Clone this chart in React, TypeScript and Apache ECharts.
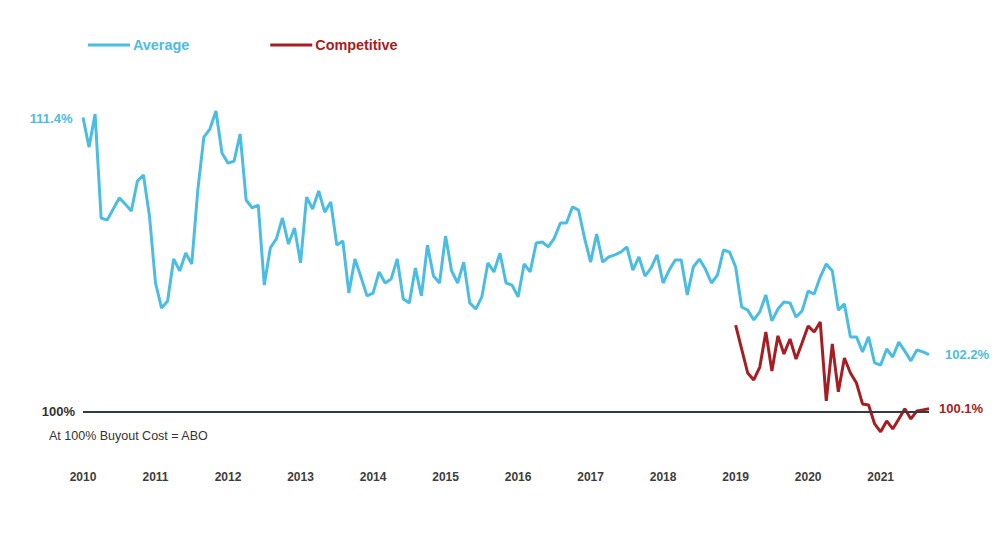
import React, { useEffect, useRef } from "react";
import * as echarts from "echarts";

const years = ["2010", "2011", "2012", "2013", "2014", "2015", "2016", "2017", "2018", "2019", "2020", "2021"];

// Monthly values, Jan 2010 .. Sep 2021 (%)
const average = [
  111.4, 110.25, 111.53, 107.5, 107.42, 107.85, 108.28, 108.04, 107.77, 108.93, 109.17, 107.58,
  104.98, 104.01, 104.28, 105.91, 105.45, 106.14, 105.72, 108.59, 110.64, 110.95, 111.65, 110.02,
  109.63, 109.71, 110.76, 108.2, 107.89, 108.0, 104.9, 106.34, 106.69, 107.5, 106.49, 107.11,
  105.76, 108.31, 107.85, 108.55, 107.73, 108.12, 106.45, 106.61, 104.59, 105.91, 105.21, 104.48,
  104.59, 105.41, 104.98, 105.14, 105.91, 104.36, 104.21, 105.56, 104.48, 106.45, 105.25, 104.98,
  106.8, 105.45, 104.98, 105.79, 104.21, 103.97, 104.44, 105.76, 105.41, 106.14, 104.98, 104.9,
  104.44, 105.72, 105.41, 106.53, 106.57, 106.38, 106.72, 107.31, 107.31, 107.93, 107.81, 106.72,
  105.79, 106.88, 105.79, 105.99, 106.07, 106.18, 106.38, 105.48, 105.99, 105.25, 105.56, 106.07,
  104.98, 105.48, 105.87, 105.87, 104.52, 105.6, 105.91, 105.52, 104.98, 105.29, 106.26, 106.18,
  105.6, 104.05, 103.93, 103.55, 103.86, 104.52, 103.51, 103.97, 104.24, 104.21, 103.66, 103.9,
  104.67, 104.55, 105.21, 105.72, 105.45, 103.93, 104.17, 102.89, 102.89, 102.31, 102.89, 101.88,
  101.8, 102.42, 102.11, 102.69, 102.34, 101.96, 102.38, 102.31, 102.2,
];

// Monthly values, Jan 2019 .. Sep 2021 (%)
const competitiveStart = "2019-01";
const competitive = [
  103.35, 102.42, 101.49, 101.22, 101.72, 103.08, 101.57, 102.93, 102.23, 102.81, 102.03, 102.66,
  103.31, 103.08, 103.47, 100.41, 102.62, 100.76, 102.07, 101.49, 101.1, 100.29, 100.25, 99.52,
  99.21, 99.63, 99.32, 99.71, 100.1, 99.71, 100.02, 100.06, 100.1,
];

const BLUE = "#4bbde3";
const RED = "#a61e22";
const DARK = "#333a44";
const FONT = "'Liberation Sans', Arial, sans-serif";

export default function App() {
  const ref = useRef<HTMLDivElement>(null);

  useEffect(() => {
    if (!ref.current) return;
    const chart = echarts.init(ref.current, undefined, { renderer: "svg" });

    const categories: string[] = [];
    years.forEach((y) => {
      for (let m = 1; m <= 12; m++) categories.push(`${y}-${m < 10 ? "0" + m : m}`);
    });
    const cats = categories.slice(0, average.length);
    const startIdx = cats.indexOf(competitiveStart);
    const compData: any[] = cats.map((_, i) => (i < startIdx ? null : competitive[i - startIdx]));

    const valueLabel = (color: string) => ({
      color,
      fontWeight: "bold",
      fontSize: 13,
      fontFamily: FONT,
    });

    chart.setOption({
      animation: false,
      textStyle: { fontFamily: FONT },
      legend: {
        left: 83,
        top: 33,
        icon: "rect",
        itemWidth: 42,
        itemHeight: 3,
        itemGap: 81,
        data: [
          { name: "Average", textStyle: { color: BLUE } },
          { name: "Competitive", textStyle: { color: RED } },
        ],
        textStyle: { fontWeight: "bold", fontSize: 14.4, fontFamily: FONT, padding: [0, 0, 0, -2] },
      },
      grid: { left: 83, right: 75, top: 102, bottom: 77 },
      xAxis: {
        type: "category",
        data: cats,
        boundaryGap: false,
        axisLine: { show: false },
        axisTick: { show: false },
        splitLine: { show: false },
        axisLabel: {
          interval: (idx: number) => idx % 12 === 0,
          formatter: (v: string) => v.slice(0, 4),
          color: "#3d3d3d",
          fontWeight: "bold",
          fontSize: 12,
          fontFamily: FONT,
          margin: 8,
        },
      },
      yAxis: {
        type: "value",
        min: 98,
        max: 112,
        show: false,
        splitLine: { show: false },
      },
      series: [
        {
          name: "Average",
          type: "line",
          data: average,
          symbol: "none",
          lineStyle: { color: BLUE, width: 3 },
          itemStyle: { color: BLUE },
          endLabel: {
            show: true,
            distance: 16,
            formatter: (p: any) => `${p.value}%`,
            ...valueLabel(BLUE),
          },
          markPoint: {
            silent: true,
            symbol: "circle",
            symbolSize: 1,
            itemStyle: { color: "rgba(0,0,0,0)" },
            label: {
              show: true,
              position: "left",
              distance: 10,
              offset: [0, 1],
              formatter: (p: any) => `${p.value}%`,
              ...valueLabel(BLUE),
            },
            data: [{ coord: [cats[0], average[0]], value: average[0] }],
          },
          markLine: {
            silent: true,
            symbol: "none",
            lineStyle: { color: DARK, width: 2, type: "solid" },
            label: {
              show: true,
              position: "start",
              distance: 8,
              formatter: "100%",
              ...valueLabel("#333"),
            },
            data: [{ yAxis: 100 }],
          },
          z: 2,
        },
        {
          name: "Competitive",
          type: "line",
          data: compData,
          symbol: "none",
          lineStyle: { color: RED, width: 3 },
          itemStyle: { color: RED },
          endLabel: {
            show: true,
            distance: 10,
            formatter: (p: any) => `${p.value}%`,
            ...valueLabel(RED),
          },
          z: 3,
        },
      ],
      graphic: [
        {
          type: "text",
          left: 49,
          top: 429,
          style: {
            text: "At 100% Buyout Cost = ABO",
            fill: "#333",
            font: `12.5px ${FONT}`,
          },
        },
      ],
    });

    return () => chart.dispose();
  }, []);

  return (
    <div
      ref={ref}
      style={{ position: "absolute", left: 0, top: 0, width: 1004, height: 540 }}
    />
  );
}
